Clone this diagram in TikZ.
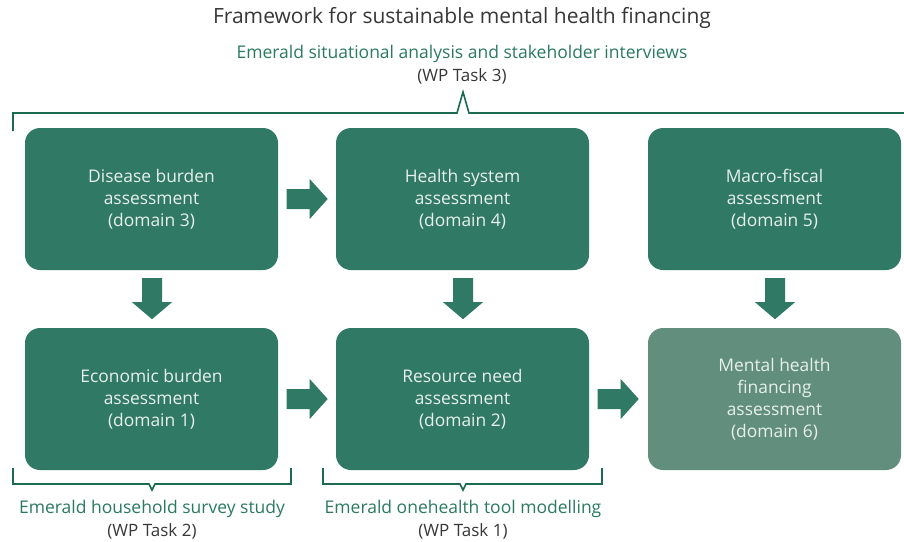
\documentclass[tikz,border=0pt]{standalone}
\usepackage{fontspec}
\setmainfont{Open Sans}
\usetikzlibrary{calc}
\definecolor{boxdark}{RGB}{48,121,100}
\definecolor{boxlight}{RGB}{97,142,125}
\definecolor{brkgreen}{RGB}{28,107,80}
\definecolor{txtgreen}{RGB}{42,122,96}
\definecolor{txtgray}{RGB}{55,55,55}
\definecolor{boxtext}{RGB}{232,240,236}
\tikzset{
  x=1pt, y=-1pt,
  box/.style={fill=boxdark, rounded corners=15pt, minimum width=253pt, minimum height=142pt,
    align=center, text=boxtext, inner sep=0pt, font=\fontsize{17.4}{22}\selectfont},
  boxl/.style={box, fill=boxlight},
  arr/.style={fill=boxdark},
  brk/.style={draw=brkgreen, line width=1.6pt, line join=miter},
  lab/.style={text=txtgreen, font=\fontsize{17.5}{20}\selectfont, inner sep=0pt},
  sub/.style={text=txtgray, font=\fontsize{17}{20}\selectfont, inner sep=0pt},
}
\begin{document}
\begin{tikzpicture}
\useasboundingbox (0,0) rectangle (904,541);
% title
\node[text=txtgray, font=\fontsize{21}{24}\selectfont, inner sep=0pt] (title) at (462,18) {Framework for sustainable mental health financing};
\node[lab] (l3) at (462,54) {Emerald situational analysis and stakeholder interviews};
\node[sub] (t3) at (462,76) {(WP Task 3)};
% boxes
\node[box] (d3) at (151.5,199) {Disease burden\\assessment\\(domain 3)};
\node[box] (d4) at (462.5,199) {Health system\\assessment\\(domain 4)};
\node[box] (d5) at (774.5,199) {Macro-fiscal\\assessment\\(domain 5)};
\node[box] (d1) at (151.5,399) {Economic burden\\assessment\\(domain 1)};
\node[box] (d2) at (462.5,399) {Resource need\\assessment\\(domain 2)};
\node[boxl] (d6) at (774.5,399) {Mental health\\financing\\assessment\\(domain 6)};
% horizontal block arrows
\foreach \a in {d3,d1,d2}{
  \fill[arr] ($(\a.east)+(8.5,-10)$) -- ++(23,0) -- ++(0,-10) -- ++(18,20) -- ++(-18,20) -- ++(0,-10) -- ++(-23,0) -- cycle;
}
% vertical block arrows
\foreach \a in {d3,d4,d5}{
  \fill[arr] ($(\a.south)+(-9.5,8)$) -- ++(0,24) -- ++(-10,0) -- ++(20,17) -- ++(20,-17) -- ++(-10,0) -- ++(0,-24) -- cycle;
}
% top bracket
\draw[brk] (13,131) -- (13,113) -- (457,113) -- (463,92) -- (469,113) -- (905,113);
% bottom brackets
\draw[brk] (13,468) -- (13,484) -- (149,484) -- (152,490) -- (155,484) -- (291,484) -- (291,468);
\draw[brk] (323,468) -- (323,484) -- (460,484) -- (463,490) -- (466,484) -- (602,484) -- (602,468);
\node[lab] (l2) at (152,509) {Emerald household survey study};
\node[sub] (t2) at (152,531) {(WP Task 2)};
\node[lab] (l1) at (463,509) {Emerald onehealth tool modelling};
\node[sub] (t1) at (463,531) {(WP Task 1)};
\end{tikzpicture}
\end{document}
